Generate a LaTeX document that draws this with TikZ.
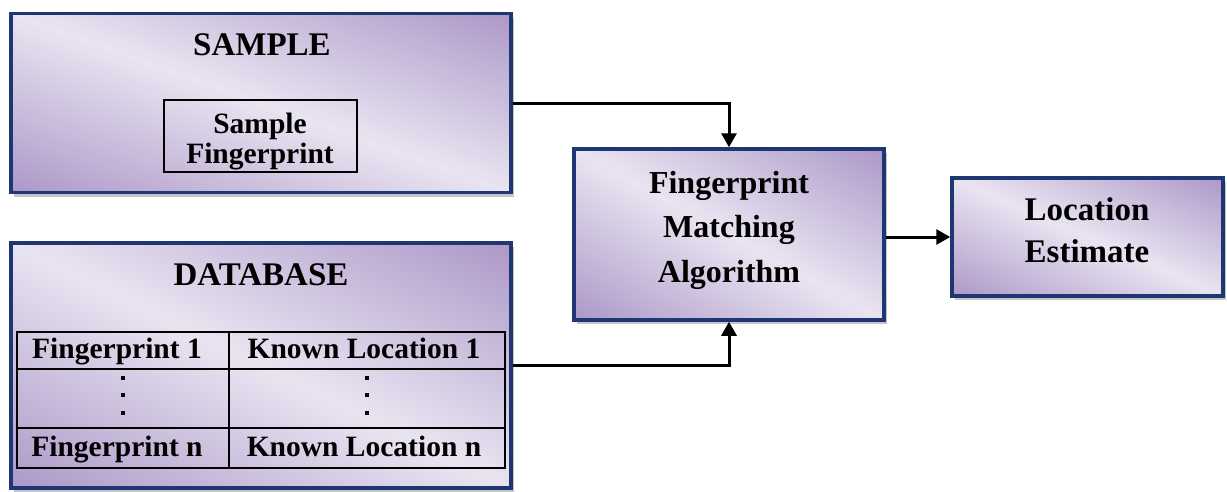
\documentclass[tikz,border=0pt]{standalone}
\usepackage{fontspec}
\setmainfont{Liberation Serif}
\usetikzlibrary{arrows.meta,shadows}
\definecolor{boxborder}{RGB}{30,55,115}
% light (233,228,241), dark (172,152,200)
\pgfdeclarefunctionalshading{panelshade}{\pgfpoint{0bp}{0bp}}{\pgfpoint{100bp}{100bp}}{}{%
  add 100 sub abs 50 div dup 1 gt {pop 1} if
  dup dup -0.239 mul 0.914 add 3 1 roll -0.298 mul 0.894 add exch -0.161 mul 0.945 add}
\tikzset{
  panel/.style={draw=boxborder, line width=3.5pt, rectangle, inner sep=0pt,
    shading=panelshade,
    drop shadow={shadow xshift=3pt, shadow yshift=-4pt, opacity=0.45}},
  innerbox/.style={draw=black, line width=1.4pt, rectangle, inner sep=0pt},
  txt/.style={inner sep=0pt, anchor=base},
  ttl/.style={txt, font=\fontsize{33}{40}\selectfont\bfseries},
  mid/.style={txt, font=\fontsize{32}{40}\selectfont\bfseries},
  cell/.style={txt, font=\fontsize{29.5}{36}\selectfont\bfseries},
  conn/.style={draw=black, line width=3pt, -{Triangle[width=15pt,length=14pt]}},
  grid/.style={draw=black, line width=1.4pt},
  dot/.style={fill=black, rectangle, inner sep=0pt, minimum size=4pt}
}
\begin{document}
\begin{tikzpicture}[x=1pt,y=-1pt]
\useasboundingbox[fill=white] (0,0) rectangle (1227,491);

% SAMPLE panel
\node[panel, minimum width=500pt, minimum height=179pt] (sample) at (261,103) {};
\node[ttl] (sampletitle) at (262,55) {SAMPLE};
\node[innerbox, minimum width=193pt, minimum height=72pt] (sfp) at (260.5,136) {};
\node[cell] (sfp1) at (260,133) {Sample};
\node[cell] (sfp2) at (260,163) {Fingerprint};

% DATABASE panel
\node[panel, minimum width=500pt, minimum height=245pt] (db) at (261,365.5) {};
\node[ttl] (dbtitle) at (261,285) {DATABASE};
\draw[grid] (17,332) rectangle (505,468);
\draw[grid] (17,369) -- (505,369);
\draw[grid] (17,428) -- (505,428);
\draw[grid] (229,332) -- (229,468);
\node[cell] (f1) at (117,358) {Fingerprint 1};
\node[cell] (k1) at (364,358) {Known Location 1};
\node[cell] (fn) at (117,456) {Fingerprint n};
\node[cell] (kn) at (364,456) {Known Location n};
\foreach \yy [count=\i] in {378,395,413}{
  \node[dot] (da\i) at (123,\yy) {};
  \node[dot] (db\i) at (367,\yy) {};
}

% Matching algorithm
\node[panel, minimum width=310pt, minimum height=171pt] (fma) at (729,234.5) {};
\node[mid] (fma1) at (729,193) {Fingerprint};
\node[mid] (fma2) at (729,237.5) {Matching};
\node[mid] (fma3) at (729,282) {Algorithm};

% Location estimate
\node[panel, minimum width=271pt, minimum height=118pt] (le) at (1087.5,237) {};
\node[ttl] (le1) at (1087,220) {Location};
\node[ttl] (le2) at (1087,262) {Estimate};

% connectors
\draw[conn] (sample.east) -| (fma.north);
\draw[conn] (db.east) -| (fma.south);
\draw[conn] (fma.east |- le.west) -- (le.west);
\end{tikzpicture}
\end{document}
